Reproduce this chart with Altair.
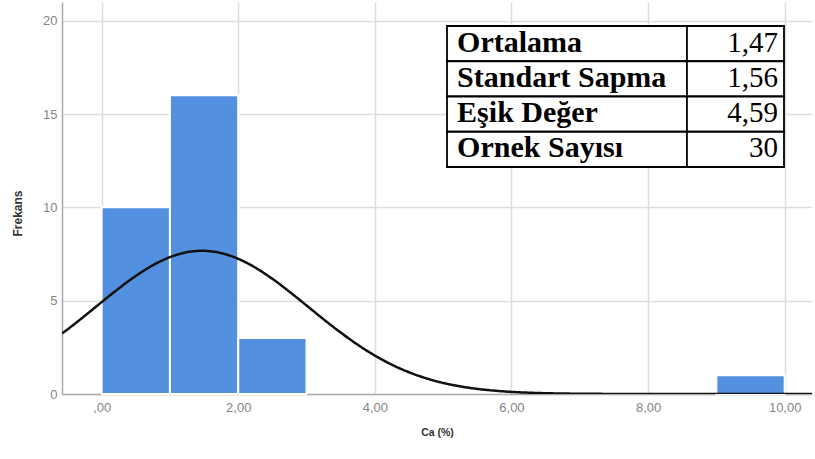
import altair as alt
import pandas as pd

# Histogram of Ca (%) with fitted normal curve
bin_start = [0, 1, 2, 9]
bin_end = [1, 2, 3, 10]
counts = [10, 16, 3, 1]

# Summary statistics shown in the table
stat_names = ["Ortalama", "Standart Sapma", "Eşik Değer", "Ornek Sayısı"]
mean_val = 1.47
sd_val = 1.56
threshold_val = 4.59
n_val = 30
bin_width = 1.0

x_ticks = [0, 2, 4, 6, 8, 10]
y_ticks = [0, 5, 10, 15, 20]
x_domain = [-0.58, 10.4]
y_domain = [0, 21]

W, H = 750, 392
BLUE = "#5391E0"


def tr(v, digits=2):
    return f"{v:.{digits}f}".replace(".", ",")


stat_texts = [tr(mean_val), tr(sd_val), tr(threshold_val), str(n_val)]

bars_df = pd.DataFrame({"start": bin_start, "end": bin_end, "count": counts})
table_df = pd.DataFrame({
    "row": list(range(len(stat_names))),
    "name": stat_names,
    "value": stat_texts,
})
table_df["row_end"] = table_df["row"] + 1
table_df["text_y"] = table_df["row"] + 0.73

x_scale = alt.Scale(domain=x_domain, nice=False, zero=False)
y_scale = alt.Scale(domain=y_domain, nice=False)

x_axis = alt.Axis(
    values=x_ticks,
    labelExpr="datum.value == 0 ? ',00' : replace(format(datum.value, '.2f'), '.', ',')",
    title="Ca (%)",
    titleFont="Liberation Sans", titleFontSize=10.5, titleFontWeight="bold",
    titleColor="#333", titlePadding=13,
    labelFont="Liberation Sans", labelFontSize=13, labelColor="#858585",
    labelPadding=7,
)
y_axis = alt.Axis(
    values=y_ticks,
    title="Frekans",
    titleFont="Liberation Sans", titleFontSize=12, titleFontWeight="bold",
    titleColor="#333", titleX=-45, titleY=H / 2 + 15, titleAngle=-90,
    titleAlign="center", titleBaseline="middle",
    labelFont="Liberation Sans", labelFontSize=13, labelColor="#858585",
    labelPadding=5,
)

bars = alt.Chart(bars_df).mark_rect(
    color=BLUE, stroke="white", strokeWidth=2
).encode(
    x=alt.X("start:Q", scale=x_scale, axis=x_axis),
    x2="end:Q",
    y=alt.Y("count:Q", scale=y_scale, axis=y_axis),
    y2=alt.datum(0),
)

density = (
    f"{n_val} * {bin_width} / ({sd_val} * sqrt(2 * PI)) * "
    f"exp(-0.5 * pow((datum.x - {mean_val}) / {sd_val}, 2))"
)
curve = alt.Chart(
    alt.sequence(start=x_domain[0], stop=x_domain[1] + 0.02, step=0.02, as_="x")
).transform_calculate(freq=density).mark_line(
    color="#111", strokeWidth=2.5, clip=True
).encode(
    x=alt.X("x:Q", scale=x_scale),
    y=alt.Y("freq:Q", scale=y_scale),
)

main = alt.layer(bars, curve)

# Statistics table drawn in its own coordinate frame
tx = alt.Scale(domain=[0, 1], range=[385, 722])
ty = alt.Scale(domain=[0, 4], range=[24, 165])
split = 0.712

cells = alt.Chart(table_df).mark_rect(
    fill="white", stroke="black", strokeWidth=1.8
).encode(
    x=alt.X("x0:Q", scale=tx, axis=None),
    x2="x1:Q",
    y=alt.Y("row:Q", scale=ty, axis=None),
    y2="row_end:Q",
).transform_calculate(x0="0", x1="1")

divider = alt.Chart(table_df).mark_rule(color="black", strokeWidth=1.8).encode(
    x=alt.X("sx:Q", scale=tx, axis=None),
    y=alt.Y("row:Q", scale=ty, axis=None),
    y2="row_end:Q",
).transform_calculate(sx=str(split))

names = alt.Chart(table_df).mark_text(
    font="Liberation Serif", fontSize=30, fontWeight="bold", align="left",
    baseline="alphabetic", color="black",
).encode(
    x=alt.X("px:Q", scale=tx, axis=None),
    y=alt.Y("text_y:Q", scale=ty, axis=None),
    text="name:N",
).transform_calculate(px="0.03")

vals = alt.Chart(table_df).mark_text(
    font="Liberation Serif", fontSize=29, align="right",
    baseline="alphabetic", color="black",
).encode(
    x=alt.X("px:Q", scale=tx, axis=None),
    y=alt.Y("text_y:Q", scale=ty, axis=None),
    text="value:N",
).transform_calculate(px="0.982")

table = alt.layer(cells, divider, names, vals)

chart = alt.layer(main, table).resolve_scale(
    x="independent", y="independent"
).properties(
    width=W, height=H,
    autosize=alt.AutoSizeParams(type="none"),
    padding={"left": 62, "top": 2, "right": 3, "bottom": 65},
    background="white",
).configure_view(stroke=None).configure_axis(
    domainColor="#aaaaaa", domainWidth=1.5,
    gridColor="#dddddd", gridWidth=1.5, grid=True,
    ticks=False,
)

chart.save("out.html", embed_options={"renderer": "svg", "actions": False})
